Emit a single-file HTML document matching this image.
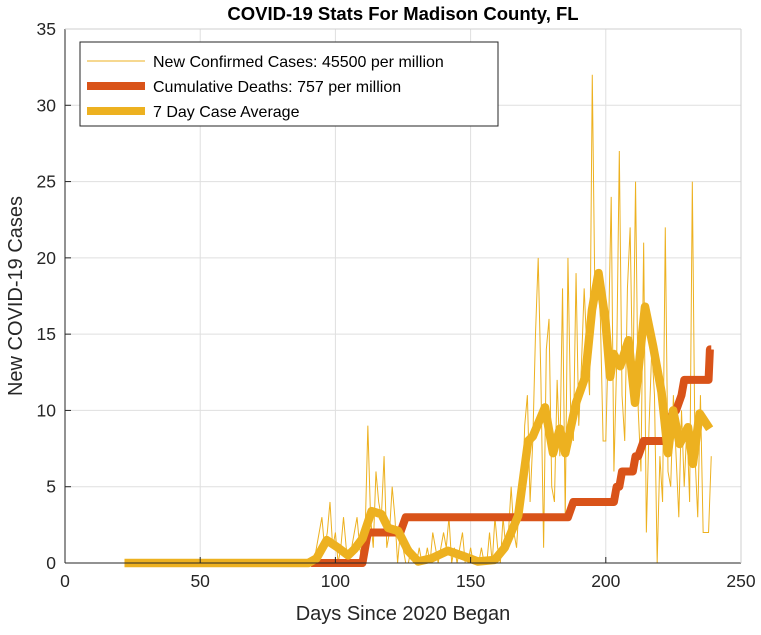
<!DOCTYPE html>
<html><head><meta charset="utf-8"><style>
body{margin:0;background:#fff;width:761px;height:630px;overflow:hidden}
svg{font-family:"Liberation Sans",Arial,sans-serif}
</style></head><body>
<svg id="c" width="761" height="630">
<text x="403" y="20" text-anchor="middle" font-size="18.5" font-weight="bold">COVID-19 Stats For Madison County, FL</text>
<text x="0" y="0" transform="translate(22,296) rotate(-90)" text-anchor="middle" font-size="20" fill="#262626">New COVID-19 Cases</text>
<text x="403" y="620" text-anchor="middle" font-size="20" fill="#262626">Days Since 2020 Began</text>
<g id="grid"></g><g id="marks"></g><g id="axes"></g>
<g>
<rect x="80" y="42" width="418" height="84" fill="#fff" stroke="#262626" stroke-width="1"/>
<line x1="87" y1="61" x2="145" y2="61" stroke="#EDB120" stroke-width="1"/>
<text x="153" y="67" font-size="16" fill="#000">New Confirmed Cases: 45500 per million</text>
<line x1="87" y1="86" x2="145" y2="86" stroke="#D95319" stroke-width="8"/>
<text x="153" y="92" font-size="16" fill="#000">Cumulative Deaths: 757 per million</text>
<line x1="87" y1="111" x2="145" y2="111" stroke="#EDB120" stroke-width="8"/>
<text x="153" y="117" font-size="16" fill="#000">7 Day Case Average</text>
</g>
</svg>
<script>
const xTicks=[0,50,100,150,200,250];
const yTicks=[0,5,10,15,20,25,30,35];
const caseStartDay=22;
const cases=[0,0,0,0,0,0,0,0,0,0, 0,0,0,0,0,0,0,0,0,0, 0,0,0,0,0,0,0,0,0,0,
0,0,0,0,0,0,0,0,0,0, 0,0,0,0,0,0,0,0,0,0, 0,0,0,0,0,0,0,0,0,0, 0,0,0,0,0,0,0,0,
0,0,0,1,2,3,1,2,4,1, 2,0,1,3,1,0,1,2,3,1, 0,2,9,3,1,6,4,3,7,1, 2,5,3,0,2,1,0,0,1,0,
0,1,0,0,1,0,2,1,0,1, 2,1,3,0,1,0,1,2,0,0, 1,0,0,0,1,0,0,2,0,3, 1,0,3,1,2,5,2,1,4,3,
9,11,4,8,15,20,12,1,14,16, 5,4,12,7,18,3,20,10,8,19, 9,13,18,14,11,32,17,19,16,8,
8,15,24,6,13,27,11,8,18,22, 11,25,10,6,21,2,9,14,11,0, 7,4,22,6,5,11,7,3,10,5,
9,4,25,7,3,11,2,2,2,7];
const avgDays=[22,90,93,96.8,98.5,101,104.7,107,110,113.4,117,119.5,123.2,126.9,130.6,135.5,141.6,146.6,152.7,158.9,162.6,165,167.6,171.3,173,177.5,180.5,183,185,189,192.4,194.9,197.3,199.8,201.6,202.9,205.3,208.4,210.8,214.5,217.5,220.6,223,224.9,227.3,230.4,232.2,234.7,238.4];
const avgVals=[0,0,0.3,1.5,1.3,1.0,0.5,0.9,1.6,3.4,3.2,2.3,2.1,0.8,0.1,0.3,0.8,0.5,0.1,0.2,1.0,2.0,3.1,8.0,8.3,10.2,7.2,8.8,7.2,10.5,12.2,16.6,19,16,12.2,13.7,12.9,14.6,10.5,16.8,14.2,11.2,7.2,10,7.8,8.9,6.5,9.8,8.8];
const deathDays=[91,110,112,124,126,186,188,203,204,205,206,209,210,211,212,214,215,222,223,225,226,228,229,238,238.5,239];
const deathVals=[0,0,2,2,3,3,4,4,5,5,6,6,6,7,7,8,8,8,9,10,10,11,12,12,14,14];
const L=65,R=741,T=29,B=563;
const sx=d=>L+(d-0)/(250-0)*(R-L);
const sy=v=>B-(v-0)/(35-0)*(B-T);
const NS='http://www.w3.org/2000/svg';
function mk(tag,attrs,parent){const e=document.createElementNS(NS,tag);for(const k in attrs)e.setAttribute(k,attrs[k]);parent.appendChild(e);return e;}
const grid=document.getElementById('grid'),marks=document.getElementById('marks'),axes=document.getElementById('axes');
xTicks.forEach(t=>{
 const g=mk('line',{x1:sx(t),x2:sx(t),y1:T,y2:B,stroke:'#dfdfdf','stroke-width':1},grid);
 
 
 mk('line',{x1:sx(t),x2:sx(t),y1:B,y2:B-6,stroke:'#262626'},axes);
 const tx=mk('text',{x:sx(t),y:B+24,'text-anchor':'middle','font-size':17.5,fill:'#262626'},axes);
 tx.textContent=t;
 
 
});
yTicks.forEach(t=>{
 const g=mk('line',{x1:L,x2:R,y1:sy(t),y2:sy(t),stroke:'#dfdfdf','stroke-width':1},grid);
 
 
 mk('line',{x1:L,x2:L+6,y1:sy(t),y2:sy(t),stroke:'#262626'},axes);
 const tx=mk('text',{x:L-9,y:sy(t)+6,'text-anchor':'end','font-size':17.5,fill:'#262626'},axes);
 tx.textContent=t;
 
 
});
mk('line',{x1:L,x2:R,y1:B,y2:B,stroke:'#262626'},axes);
mk('line',{x1:L,x2:L,y1:T,y2:B,stroke:'#262626'},axes);
mk('line',{x1:L,x2:R,y1:T,y2:T,stroke:'#cfcfcf'},axes);
mk('line',{x1:R,x2:R,y1:T,y2:B,stroke:'#cfcfcf'},axes);
const cp=cases.map((v,i)=>sx(caseStartDay+i)+','+sy(v)).join(' ');
const c1=mk('polyline',{points:cp,fill:'none',stroke:'#EDB120','stroke-width':1},marks);


const dp=deathDays.map((d,i)=>sx(d)+','+sy(deathVals[i])).join(' ');
const c2=mk('polyline',{points:dp,fill:'none',stroke:'#D95319','stroke-width':8,'stroke-linejoin':'round'},marks);


const ap=avgDays.map((d,i)=>sx(d)+','+sy(avgVals[i])).join(' ');
const c3=mk('polyline',{points:ap,fill:'none',stroke:'#EDB120','stroke-width':8.5,'stroke-linejoin':'round'},marks);


</script>
</body></html>
